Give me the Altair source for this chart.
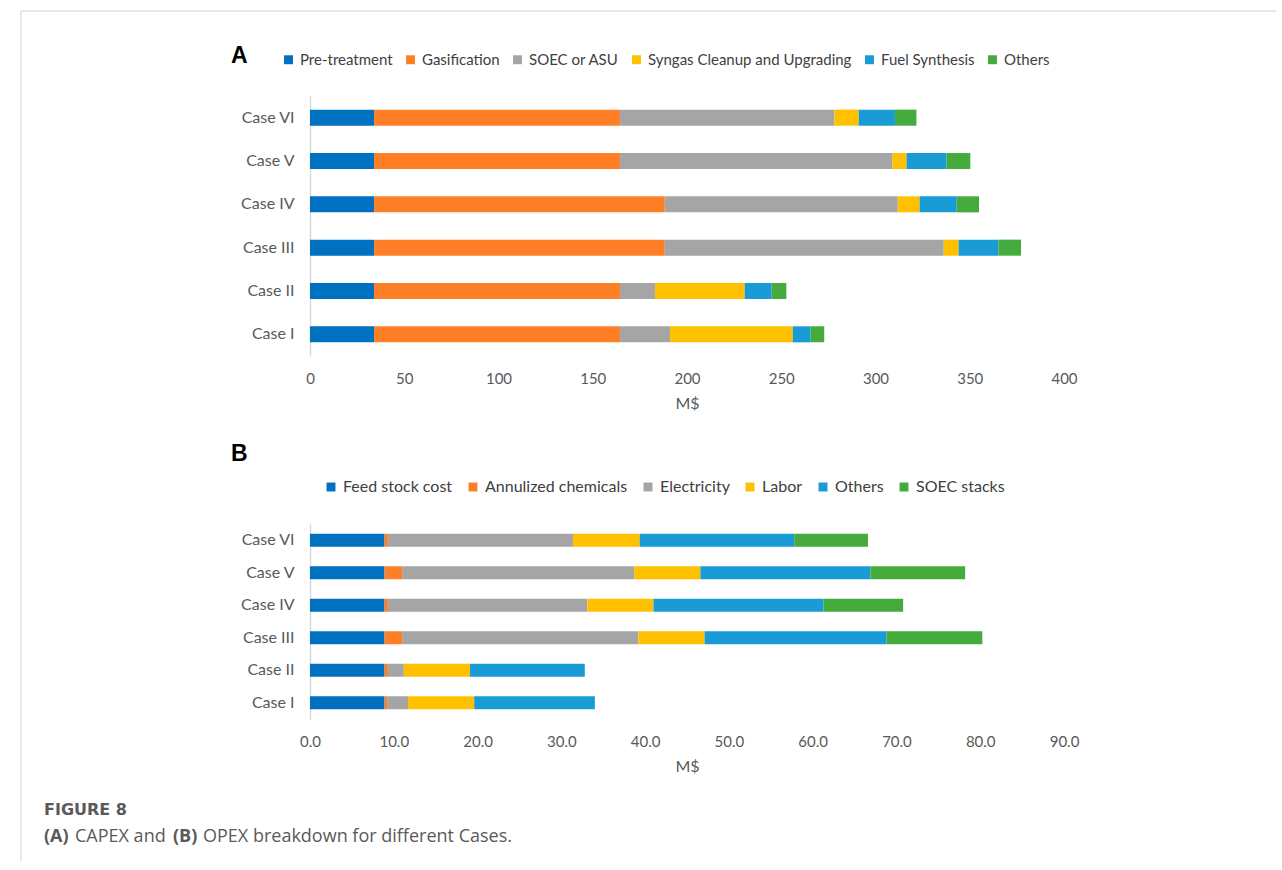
import altair as alt
import pandas as pd

# ---------------- data ----------------
cases = ["Case I", "Case II", "Case III", "Case IV", "Case V", "Case VI"]
cases_top_down = ["Case VI", "Case V", "Case IV", "Case III", "Case II", "Case I"]

capex_components = ["Pre-treatment", "Gasification", "SOEC or ASU",
                    "Syngas Cleanup and Upgrading", "Fuel Synthesis", "Others"]
pretreatment = [34.0, 34.0, 34.0, 34.0, 34.0, 34.0]
gasification = [130.5, 130.5, 154.2, 154.2, 130.5, 130.5]
soec_asu = [26.5, 18.5, 148.0, 123.6, 144.4, 113.7]
syngas_cleanup = [65.1, 47.6, 7.9, 11.6, 7.6, 12.9]
fuel_synthesis = [9.5, 14.3, 21.1, 19.7, 21.1, 19.2]
others_capex = [7.2, 7.8, 12.0, 11.8, 12.7, 11.4]

opex_components = ["Feed stock cost", "Annulized chemicals", "Electricity",
                   "Labor", "Others", "SOEC stacks"]
feedstock = [8.9, 8.9, 8.9, 8.9, 8.9, 8.9]
chemicals = [0.3, 0.4, 2.1, 0.4, 2.1, 0.4]
electricity = [2.5, 1.9, 28.2, 23.8, 27.7, 22.1]
labor = [7.9, 7.9, 7.9, 7.9, 7.9, 7.95]
others_opex = [14.4, 13.7, 21.7, 20.3, 20.3, 18.45]
soec_stacks = [0.0, 0.0, 11.45, 9.5, 11.3, 8.8]

capex_ticks = [0, 50, 100, 150, 200, 250, 300, 350, 400]
opex_ticks = [0, 10, 20, 30, 40, 50, 60, 70, 80, 90]

colors = ["#0070C0", "#FF7F27", "#A5A5A5", "#FFC000", "#199BD6", "#44AB3C"]

caption_title = ["FIGURE 8"]
caption_parts = ["(A)", "CAPEX and", "(B)", "OPEX breakdown for different Cases."]

FONT = "Lato"
CAP_FONT = "Open Sans"


def build(series, comps, field):
    rows = []
    for ci, comp in enumerate(comps):
        for k, case in enumerate(cases):
            rows.append({"case": case, field: comp, "value": series[ci][k], "idx": ci})
    return pd.DataFrame(rows)


dfA = build([pretreatment, gasification, soec_asu, syngas_cleanup, fuel_synthesis, others_capex],
            capex_components, "capex")
dfB = build([feedstock, chemicals, electricity, labor, others_opex, soec_stacks],
            opex_components, "opex")

one = pd.DataFrame({"t": ["x"]})


def yaxis():
    return alt.Axis(title=None, ticks=False, labelPadding=16, labelFontSize=16,
                    labelFont=FONT, labelColor="#595959", domainColor="#D9D9D9",
                    domainWidth=1.5, grid=False)


def xaxis(vals, fmt):
    return alt.Axis(values=vals, format=fmt, title="M$", ticks=False, domain=False,
                    grid=False, labelPadding=15, labelFontSize=15, labelFont=FONT,
                    labelColor="#595959", labelFlush=False, labelOverlap=False,
                    titleFont=FONT, titleFontSize=16,
                    titleFontWeight="normal", titleColor="#595959", titlePadding=9)


def legend(lx, ly, fs, cp):
    return alt.Legend(title=None, orient="none", legendX=lx, legendY=ly,
                      direction="horizontal", columns=6, symbolType="square",
                      symbolSize=80, symbolStrokeWidth=0, labelFont=FONT,
                      labelFontSize=fs, labelColor="#404040", labelOffset=4,
                      labelLimit=400, columnPadding=cp, padding=0)


barsA = alt.Chart(dfA).mark_bar().encode(
    x=alt.X("value:Q", stack="zero", scale=alt.Scale(domain=[0, 400], nice=False),
            axis=xaxis(capex_ticks, "d")),
    y=alt.Y("case:N", sort=cases_top_down,
            scale=alt.Scale(paddingInner=0.63, paddingOuter=0.315), axis=yaxis()),
    color=alt.Color("capex:N", scale=alt.Scale(domain=capex_components, range=colors),
                    legend=legend(-29, -44, 15, 10)),
    order=alt.Order("idx:Q"),
)

frameV = alt.Chart(one).mark_rule(color="#CFCFCF", strokeWidth=1).encode(
    x=alt.value(-289), y=alt.value(-85), y2=alt.value(765))
frameH = alt.Chart(one).mark_rule(color="#CFCFCF", strokeWidth=1).encode(
    x=alt.value(-289), x2=alt.value(966), y=alt.value(-85))

labelA = alt.Chart(pd.DataFrame({"t": ["A"]})).mark_text(
    align="left", baseline="middle", font="Liberation Sans", fontSize=23,
    fontWeight="bold", color="#000000").encode(text="t:N", x=alt.value(-79), y=alt.value(-40))

chartA = alt.layer(frameV, frameH, barsA, labelA).properties(width=754, height=260)

barsB = alt.Chart(dfB).mark_bar().encode(
    x=alt.X("value:Q", stack="zero", scale=alt.Scale(domain=[0, 90], nice=False),
            axis=xaxis(opex_ticks, ".1f")),
    y=alt.Y("case:N", sort=cases_top_down,
            scale=alt.Scale(paddingInner=0.6, paddingOuter=0.3), axis=yaxis()),
    color=alt.Color("opex:N", scale=alt.Scale(domain=opex_components, range=colors),
                    legend=legend(13, -45, 16, 12)),
    order=alt.Order("idx:Q"),
)

labelB = alt.Chart(pd.DataFrame({"t": ["B"]})).mark_text(
    align="left", baseline="middle", font="Liberation Sans", fontSize=23,
    fontWeight="bold", color="#000000").encode(text="t:N", x=alt.value(-79), y=alt.value(-70))

capTitle = alt.Chart(pd.DataFrame({"t": caption_title})).mark_text(
    align="left", baseline="middle", font="DejaVu Sans", fontSize=16, fontWeight="bold",
    color="#5A5A5A").encode(text="t:N", x=alt.value(-266), y=alt.value(286))

cap_x = [-266, -235, -137, -107]
cap_bold = [True, False, True, False]
cap_layers = []
for txt, xx, b in zip(caption_parts, cap_x, cap_bold):
    cap_layers.append(
        alt.Chart(pd.DataFrame({"t": [txt]})).mark_text(
            align="left", baseline="middle", font=CAP_FONT, fontSize=18,
            fontWeight="bold" if b else "normal", color="#5A5A5A"
        ).encode(text="t:N", x=alt.value(xx), y=alt.value(313))
    )

chartB = alt.layer(barsB, labelB, capTitle, *cap_layers).properties(width=754, height=195)

chart = alt.vconcat(chartA, chartB, spacing=168, bounds="flush").resolve_scale(
    color="independent", x="independent", y="independent"
).resolve_legend(color="independent").properties(
    padding={"left": 20, "top": 10, "right": 0, "bottom": 0},
    background="white",
).configure_view(strokeWidth=0, stroke=None)

chart.save("out.html", embed_options={"renderer": "svg", "actions": False})
